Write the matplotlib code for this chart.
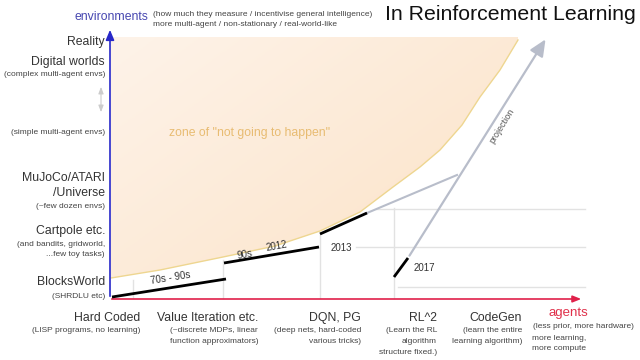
import numpy as np
import matplotlib
matplotlib.use("Agg")
import matplotlib.pyplot as plt
from matplotlib.path import Path
from matplotlib.patches import PathPatch

plt.rcParams['font.family'] = ['Liberation Sans', 'DejaVu Sans']

BIG = 8.8
SMALL = 6

# slide is laid out in pixel units (x right, y down)
# environment levels on the y axis: (label, y, big?)
env_labels = [("Reality", 42, True), ("Digital worlds", 62, True),
              ("(complex multi-agent envs)", 74, False), ("(simple multi-agent envs)", 132, False),
              ("MuJoCo/ATARI", 178, True), ("/Universe", 193, True), ("(~few dozen envs)", 206, False),
              ("Cartpole etc.", 231, True), ("(and bandits, gridworld,", 244, False),
              ("...few toy tasks)", 255, False), ("BlocksWorld", 282, True), ("(SHRDLU etc)", 296, False)]

# agent types on the x axis: (right edge x, title, sub lines)
agent_x = [140, 258, 361, 437, 522]
agent_titles = ["Hard Coded", "Value Iteration etc.", "DQN, PG", "RL^2", "CodeGen"]
agent_notes = [["(LISP programs, no learning)"],
               ["(~discrete MDPs, linear", "function approximators)"],
               ["(deep nets, hard-coded", "various tricks)"],
               ["(Learn the RL", "algorithm", "structure fixed.)"],
               ["(learn the entire", "learning algorithm)"]]

# boundary of the "not going to happen" zone
curve_x = [111, 160, 223, 275, 320, 360, 393, 420, 440, 462, 480, 500, 518]
curve_y = [278, 270, 257, 246, 231, 212, 187, 167, 150, 125, 97, 70, 40]
zone_top = 37

# progress segments (x0, y0, x1, y1)
segments = [(112, 297, 226, 279), (224, 263, 319, 247), (320, 234, 367, 213), (394, 277, 408, 258)]
seg_labels = [("70s - 90s", 170, 278, 9), ("90s", 245, 255, 10), ("2012", 277, 246, 10),
              ("2013", 341, 248, 0), ("2017", 424, 268, 0)]

# faint grid
hgrid = [(209, 376), (247, 356), (287, 398)]
vgrid = [(133, 280), (223, 260), (320, 232), (394, 208)]

fig = plt.figure(figsize=(6.4, 3.6), dpi=100)
ax = fig.add_axes([0, 0, 1, 1])
ax.set_xlim(0, 640)
ax.set_ylim(360, 0)
ax.axis('off')

for y, x0 in hgrid:
    ax.plot([x0, 585], [y, y], color='#e2e2e2', lw=1, zorder=1)
for x, y0 in vgrid:
    ax.plot([x, x], [y0, 298], color='#e2e2e2', lw=1, zorder=1)

# shaded zone with a soft gradient
verts = [(111, zone_top), (curve_x[-1], zone_top)] + list(zip(curve_x[::-1], curve_y[::-1])) + [(111, zone_top)]
clip = PathPatch(Path(verts), facecolor='none', edgecolor='none')
ax.add_patch(clip)
gx, gy = np.meshgrid(np.linspace(0, 1, 200), np.linspace(0, 1, 200))
grad = 0.55 * gx + 0.45 * gy
cmap = matplotlib.colors.LinearSegmentedColormap.from_list('peach', ['#fef3e9', '#fbe2c6'])
im = ax.imshow(grad, extent=(111, 520, 280, zone_top), cmap=cmap, aspect='auto', zorder=2)
im.set_clip_path(clip)
ax.plot(curve_x, curve_y, color='#eed690', lw=1, zorder=3)
ax.text(250, 133, 'zone of "not going to happen"', color='#e8bc72', fontsize=8.8,
        ha='center', va='center', zorder=3)

# axes arrows
ax.annotate('', xy=(110, 27), xytext=(110, 299),
            arrowprops=dict(arrowstyle='-|>,head_width=0.25,head_length=0.6', color='#2828c8', lw=1.2),
            zorder=5)
ax.annotate('', xy=(584, 299), xytext=(109, 299),
            arrowprops=dict(arrowstyle='-|>,head_width=0.2,head_length=0.5', color='#e0204a', lw=1.2),
            zorder=5)

# projection lines
ax.plot([367, 457], [213, 175], color='#b8bdca', lw=1.5, zorder=4)
ax.annotate('', xy=(547, 37), xytext=(408, 258),
            arrowprops=dict(arrowstyle='-|>,head_width=0.45,head_length=1.0', color='#b8bdca', lw=1.6),
            zorder=4)
ax.text(502, 126, 'projection', rotation=58, fontsize=6.5, color='#555555',
        ha='center', va='center', zorder=6)

for x0, y0, x1, y1 in segments:
    ax.plot([x0, x1], [y0, y1], color='black', lw=2, solid_capstyle='butt', zorder=6)
for txt, x, y, rot in seg_labels:
    ax.text(x, y, txt, rotation=rot, fontsize=7, color='#333333', ha='center', va='center', zorder=6)

for txt, y, big in env_labels:
    ax.text(105, y, txt, fontsize=BIG if big else SMALL, color='#333333' if big else '#444444',
            ha='right', va='center', zorder=6)
ax.annotate('', xy=(101, 84), xytext=(101, 115),
            arrowprops=dict(arrowstyle='<|-|>,head_width=0.15,head_length=0.4', color='#cccccc', lw=0.8))

for x, title, notes in zip(agent_x, agent_titles, agent_notes):
    ax.text(x, 318, title, fontsize=BIG, color='#333333', ha='right', va='center')
    for i, line in enumerate(notes):
        ax.text(x, 331 + 10.5 * i, line, fontsize=SMALL, color='#444444', ha='right', va='center')

ax.text(568, 313, 'agents', fontsize=9.5, color='#e0304a', ha='center', va='center')
ax.text(634, 327, '(less prior, more hardware)', fontsize=SMALL, color='#444444',
        ha='right', va='center')
ax.text(559, 338, 'more learning,', fontsize=SMALL, color='#444444', ha='center', va='center')
ax.text(559, 348, 'more compute', fontsize=SMALL, color='#444444', ha='center', va='center')

# header
ax.text(148, 17, 'environments', fontsize=BIG, color='#4646b0', ha='right', va='center')
ax.text(153, 14, '(how much they measure / incentivise general intelligence)', fontsize=SMALL,
        color='#444444', ha='left', va='center')
ax.text(153, 24, 'more multi-agent / non-stationary / real-world-like', fontsize=SMALL,
        color='#444444', ha='left', va='center')
ax.text(636, 15, 'In Reinforcement Learning', fontsize=15.3, color='#111111', ha='right', va='center')

fig.savefig('out.png', dpi=100)
